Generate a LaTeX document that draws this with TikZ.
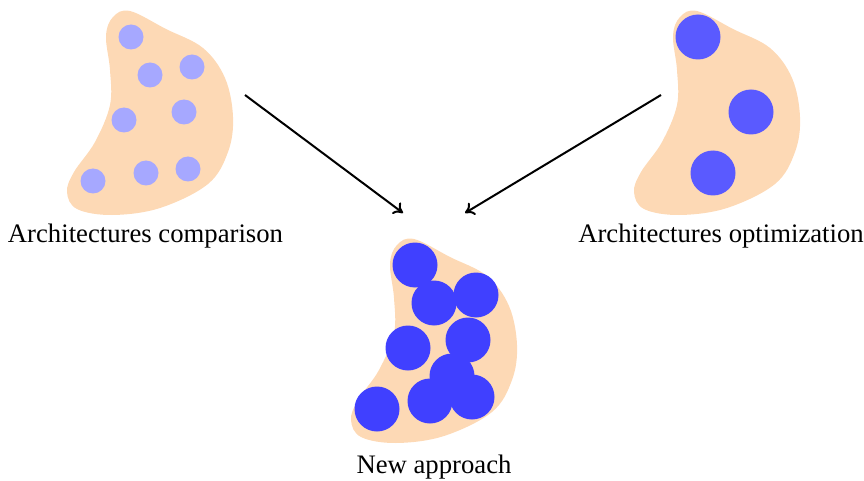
\documentclass[tikz,border=0pt]{standalone}
\usepackage{fontspec}
\setmainfont{Liberation Serif}
\usetikzlibrary{arrows.meta}
\definecolor{blobc}{RGB}{253,217,181}
\definecolor{lightc}{RGB}{166,168,255}
\definecolor{medc}{RGB}{90,90,255}
\definecolor{darkc}{RGB}{64,64,255}
\tikzset{
  blob/.style={fill=blobc, draw=none},
  lab/.style={anchor=base, inner sep=0pt, font=\fontsize{26.7}{30}\selectfont},
  conn/.style={line width=2pt, -{To[length=9pt,width=14pt]}},
}
\newcommand{\blobpath}{plot[smooth cycle, tension=0.6] coordinates {(130,11) (166,29) (203,48) (225,78) (233,117) (228,152) (208,184) (160,208) (112,215) (77,209) (67,192) (74,172) (95,142) (110,105) (110,70) (106,36) (113,17)}}
\begin{document}
\begin{tikzpicture}[x=1pt,y=-1pt]
\useasboundingbox (0,0) rectangle (864,481);
% left blob
\begin{scope}
  \fill[blob] \blobpath;
  \foreach \p/\q in {131/37,150/75,192/67,124/120,184/112,93/181,146/173,188/169}
    \fill[lightc] (\p,\q) circle[radius=12.5];
\end{scope}
% right blob
\begin{scope}[shift={(567,0)}]
  \fill[blob] \blobpath;
  \foreach \p/\q in {131/37,184/112,146/173}
    \fill[medc] (\p,\q) circle[radius=22.5];
\end{scope}
% middle blob
\begin{scope}[shift={(284,228)}]
  \fill[blob] \blobpath;
  \foreach \p/\q in {131/37,150/75,192/67,124/120,184/112,168/148,93/181,146/173,188/169}
    \fill[darkc] (\p,\q) circle[radius=22.5];
\end{scope}
\node[lab] (lcomp) at (145.5,242) {Architectures comparison};
\node[lab] (ropt) at (721,242) {Architectures optimization};
\node[lab] (mnew) at (434,473) {New approach};
\coordinate (a1s) at (245,95);
\coordinate (a1e) at (403,213);
\coordinate (a2s) at (661,95);
\coordinate (a2e) at (465,213);
\draw[conn] (a1s) -- (a1e);
\draw[conn] (a2s) -- (a2e);
\end{tikzpicture}
\end{document}
